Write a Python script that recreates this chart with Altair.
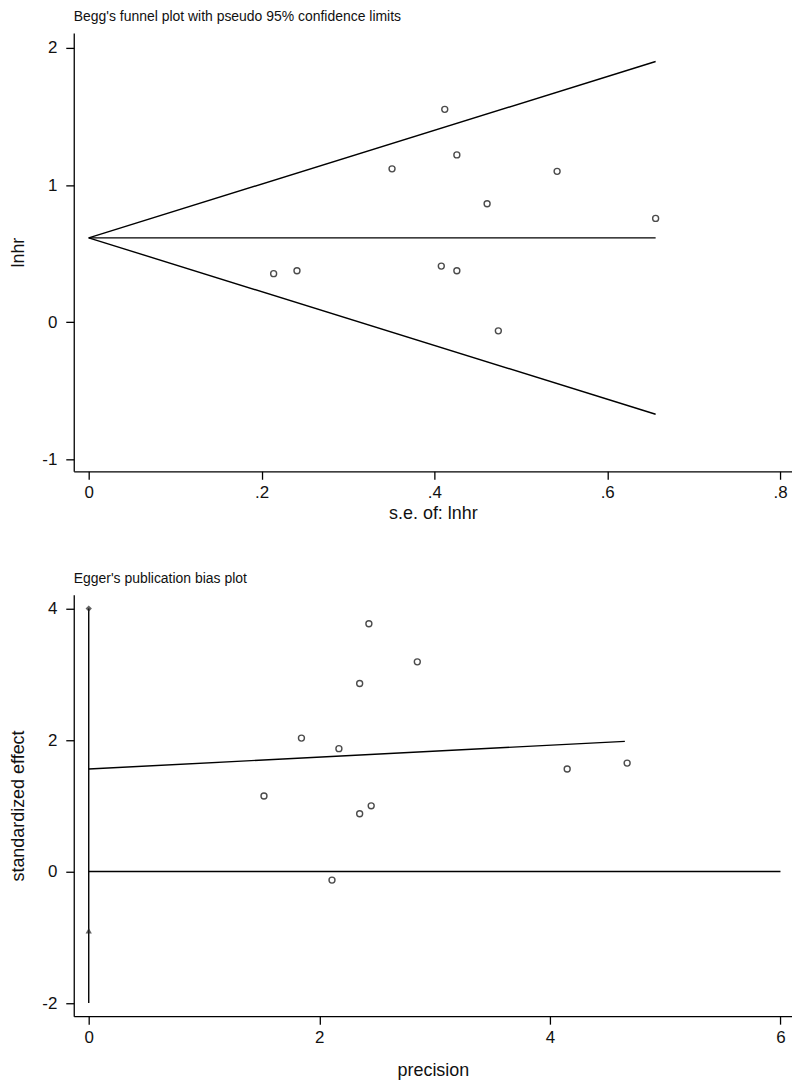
import altair as alt
import pandas as pd

FONT = "Liberation Sans"

# ---- Begg's funnel plot data ----
se = [0.412, 0.426, 0.351, 0.542, 0.461, 0.656, 0.214, 0.241, 0.408, 0.426, 0.474]
lnhr = [1.552, 1.220, 1.118, 1.100, 0.864, 0.757, 0.354, 0.375, 0.409, 0.375, -0.063]

funnel_se = [0.0, 0.656]
funnel_upper = [0.615, 1.901]
funnel_lower = [0.615, -0.671]
funnel_pooled = [0.615, 0.615]
se_ticks = [0, 0.2, 0.4, 0.6, 0.8]
lnhr_ticks = [-1, 0, 1, 2]

# ---- Egger's publication bias plot data ----
precision = [2.43, 2.85, 2.35, 1.845, 2.17, 1.52, 2.35, 2.45, 4.15, 4.67, 2.11]
std_effect = [3.77, 3.19, 2.86, 2.03, 1.87, 1.15, 0.88, 1.00, 1.56, 1.65, -0.13]
reg_x = [0.0, 4.65]
reg_y = [1.56, 1.98]
ci_x = [0.0, 0.0]
ci_y = [-2.0, 4.0]
ci_marks = [4.0, -0.9]
zero_x = [0.0, 6.0]
zero_y = [0.0, 0.0]
prec_ticks = [0, 2, 4, 6]
eff_ticks = [-2, 0, 2, 4]

# ---------------- top panel ----------------
pts1 = pd.DataFrame({"se": se, "lnhr": lnhr})
fun = pd.DataFrame({
    "se": funnel_se * 3,
    "val": funnel_upper + funnel_lower + funnel_pooled,
    "grp": ["upper"] * 2 + ["lower"] * 2 + ["pooled"] * 2,
})

xs1 = alt.Scale(domain=[-0.0173, 0.8138], nice=False, zero=False)
ys1 = alt.Scale(domain=[-1.087, 2.109], nice=False, zero=False)

xax1 = alt.Axis(values=se_ticks, title="s.e. of: lnhr", titlePadding=5, labelPadding=5,
                labelExpr="datum.value == 0 ? '0' : replace(format(datum.value, '.1f'), '0.', '.')")
yax1 = alt.Axis(values=lnhr_ticks, title="lnhr", labelExpr="datum.value + ''")

lines1 = alt.Chart(fun).mark_line(color="black", strokeWidth=1.4).encode(
    x=alt.X("se:Q", scale=xs1, axis=xax1),
    y=alt.Y("val:Q", scale=ys1, axis=yax1),
    detail="grp:N",
)
points1 = alt.Chart(pts1).mark_point(shape="circle", filled=False, color="black",
                                      size=36, strokeWidth=1.4).encode(
    x=alt.X("se:Q", scale=xs1),
    y=alt.Y("lnhr:Q", scale=ys1),
)
top = alt.layer(lines1, points1).properties(
    width=721, height=440,
    title=alt.TitleParams("Begg's funnel plot with pseudo 95% confidence limits",
                          anchor="start", frame="group", font=FONT, fontSize=14,
                          fontWeight="normal", color="#111", offset=9),
)

# ---------------- bottom panel ----------------
pts2 = pd.DataFrame({"precision": precision, "eff": std_effect})
lines_df = pd.DataFrame({
    "x": reg_x + ci_x + zero_x,
    "y": reg_y + ci_y + zero_y,
    "grp": ["reg"] * 2 + ["ci"] * 2 + ["zero"] * 2,
})
ci_df = pd.DataFrame({"x": [0.0, 0.0], "y": ci_marks, "shape": ["diamond", "triangle-up"]})

xs2 = alt.Scale(domain=[-0.13, 6.10], nice=False, zero=False)
ys2 = alt.Scale(domain=[-2.2, 4.21], nice=False, zero=False)
xax2 = alt.Axis(values=prec_ticks, title="precision", titlePadding=18, labelPadding=5,
                labelExpr="datum.value + ''")
yax2 = alt.Axis(values=eff_ticks, title="standardized effect", labelExpr="datum.value + ''")

lines2 = alt.Chart(lines_df).mark_line(color="black", strokeWidth=1.4).encode(
    x=alt.X("x:Q", scale=xs2, axis=xax2),
    y=alt.Y("y:Q", scale=ys2, axis=yax2),
    detail="grp:N",
)
cim = alt.Chart(ci_df).mark_point(filled=True, color="#222", size=40).encode(
    x=alt.X("x:Q", scale=xs2),
    y=alt.Y("y:Q", scale=ys2),
    shape=alt.Shape("shape:N", scale=None, legend=None),
)
points2 = alt.Chart(pts2).mark_point(shape="circle", filled=False, color="black",
                                      size=36, strokeWidth=1.4).encode(
    x=alt.X("precision:Q", scale=xs2),
    y=alt.Y("eff:Q", scale=ys2),
)
bottom = alt.layer(lines2, cim, points2).properties(
    width=721, height=423,
    title=alt.TitleParams("Egger's publication bias plot",
                          anchor="start", frame="group", font=FONT, fontSize=14,
                          fontWeight="normal", color="#111", offset=9),
)

chart = alt.vconcat(top, bottom, spacing=50).properties(
    padding={"left": 2, "top": 0, "right": 0, "bottom": 0},
).configure_view(stroke=None).configure_axis(
    grid=False,
    domainColor="black", domainWidth=1.3,
    tickColor="black", tickWidth=1.3, tickSize=8,
    labelFont=FONT, labelFontSize=17, labelColor="#111",
    titleFont=FONT, titleFontSize=18, titleFontWeight="normal", titleColor="#111",
).configure_axisY(
    minExtent=34, maxExtent=34, titlePadding=12, labelPadding=9,
).configure_axisX(
    minExtent=28, maxExtent=28,
)

chart.save("out.html", embed_options={"renderer": "svg", "actions": False})
